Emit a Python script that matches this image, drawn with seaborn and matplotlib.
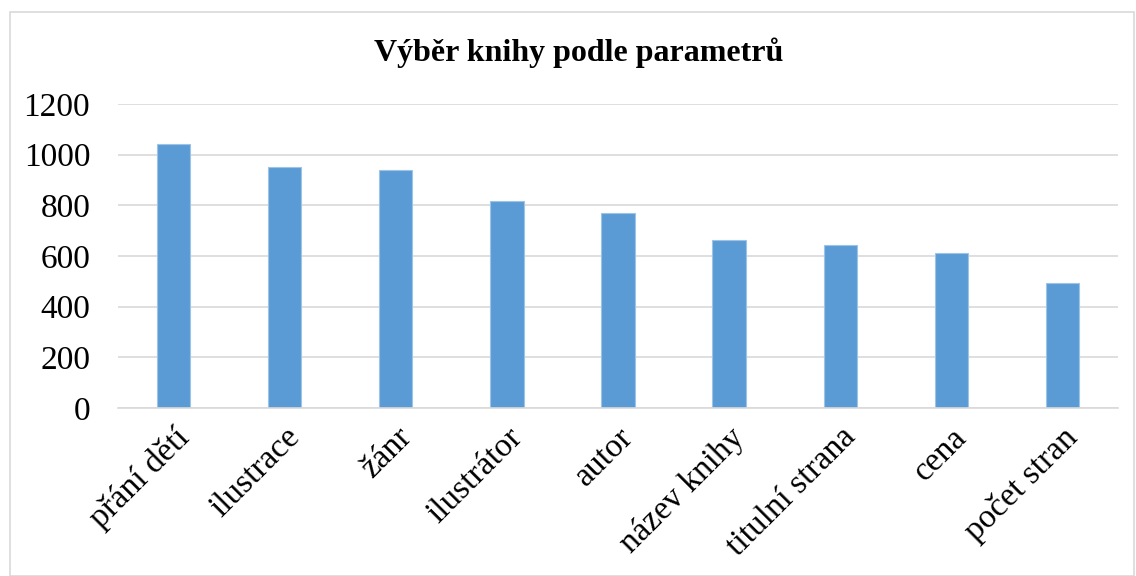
import matplotlib
matplotlib.use("Agg")
import matplotlib.pyplot as plt
import seaborn as sns
import pandas as pd
from matplotlib.patches import Rectangle

categories = ["přání dětí", "ilustrace", "žánr", "ilustrátor", "autor",
              "název knihy", "titulní strana", "cena", "počet stran"]
values = [1043, 953, 941, 816, 768, 662, 645, 613, 495]
yticks = [0, 200, 400, 600, 800, 1000, 1200]
title = "Výběr knihy podle parametrů"

sns.set_theme(style="white")
plt.rcParams["font.family"] = ["Liberation Serif", "DejaVu Serif"]

df = pd.DataFrame({"param": categories, "count": values})

fig = plt.figure(figsize=(11.36, 5.76), dpi=100)
ax = fig.add_axes([118/1136, 1 - 408/576, 1000/1136, 304/576])

sns.barplot(data=df, x="param", y="count", color="#5B9BD5", width=0.3,
            saturation=1, ax=ax, edgecolor="#9DC3E6", linewidth=0.8)

ax.set_ylim(0, 1200)
ax.set_yticks(yticks)
ax.set_yticklabels([str(t) for t in yticks], fontsize=24, color="black")
ax.set_xlim(-0.5, len(categories) - 0.5)
ax.yaxis.grid(True, color="#D9D9D9", linewidth=1.2)
ax.set_axisbelow(True)
for s in ["top", "right", "left"]:
    ax.spines[s].set_visible(False)
ax.spines["bottom"].set_color("#D9D9D9")
ax.spines["bottom"].set_linewidth(1.2)
ax.tick_params(axis="y", length=0, pad=20, colors="black")
ax.tick_params(axis="x", length=0, pad=10, colors="black")
ax.set_xticks(range(len(categories)))
ax.set_xticklabels(categories, rotation=45, ha="right", rotation_mode="anchor",
                   fontsize=24, color="black")
ax.set_xlabel("")
ax.set_ylabel("")

fig.text(579/1136, 1 - 53/576, title, ha="center", va="center", fontsize=23,
         fontweight="bold", color="black")

fig.patches.append(Rectangle((10/1136, 0.0), 1 - 10/1136 - 2/1136, 1 - 12/576,
                             transform=fig.transFigure, fill=False,
                             edgecolor="#D9D9D9", linewidth=1.2))

fig.savefig("out.png", dpi=100)
